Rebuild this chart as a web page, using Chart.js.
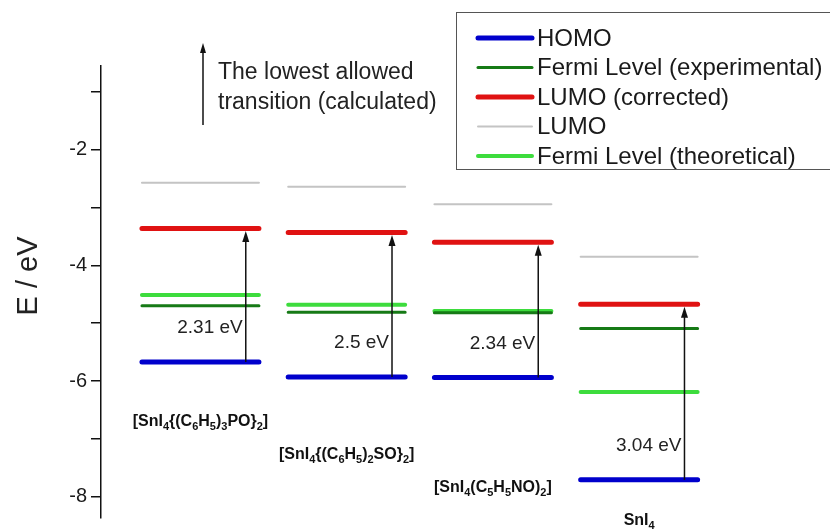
<!DOCTYPE html>
<html lang="en">
<head>
  <meta charset="UTF-8">
  <title>Energy levels of SnI4 complexes</title>
  <style>
    html, body { margin: 0; padding: 0; background: #fff; }
    #wrap { width: 830px; height: 531px; }
  </style>
  <script src="https://cdn.jsdelivr.net/npm/chart.js"></script>
</head>
<body>
  <div id="wrap"><canvas id="levelsChart" width="830" height="531"></canvas></div>

  <script>
    // compounds, left to right ("_" marks a one-digit subscript)
    var compounds = ['[SnI_4{(C_6H_5)_3PO}_2]', '[SnI_4{(C_6H_5)_2SO}_2]', '[SnI_4(C_5H_5NO)_2]', 'SnI_4'];

    // energy levels (eV), one value per compound
    var homo      = [-5.67, -5.93, -5.94, -7.71];
    var fermiExp  = [-4.70, -4.81, -4.82, -5.09];
    var lumoCorr  = [-3.36, -3.43, -3.60, -4.67];
    var lumo      = [-2.57, -2.64, -2.94, -3.85];
    var fermiTheo = [-4.51, -4.68, -4.79, -6.19];

    // lowest allowed transition (HOMO -> corrected LUMO)
    var gapLabels = ['2.31 eV', '2.5 eV', '2.34 eV', '3.04 eV'];

    var yLabelTicks = [-8, -6, -4, -2];

    var FONT = "'Liberation Sans', Arial, sans-serif";

    // each level is a short horizontal segment centred on its compound
    function levelData(values) {
      var pts = [];
      values.forEach(function (v, i) {
        var c = i + 1;
        pts.push({x: c - 0.4, y: v}, {x: c + 0.4, y: v}, {x: c + 0.5, y: null});
      });
      return pts;
    }

    var series = [
      {label: 'HOMO', values: homo, color: '#0000cc', width: 5},
      {label: 'Fermi Level (experimental)', values: fermiExp, color: '#167a16', width: 3},
      {label: 'LUMO (corrected)', values: lumoCorr, color: '#e01212', width: 5},
      {label: 'LUMO', values: lumo, color: '#c4c4c4', width: 2},
      {label: 'Fermi Level (theoretical)', values: fermiTheo, color: '#3ddc3d', width: 4}
    ];

    function drawArrowUp(ctx, x, yTail, yTip, headLen, headW) {
      ctx.beginPath();
      ctx.moveTo(x, yTail);
      ctx.lineTo(x, yTip + headLen - 1);
      ctx.stroke();
      ctx.beginPath();
      ctx.moveTo(x, yTip);
      ctx.lineTo(x - headW / 2, yTip + headLen);
      ctx.lineTo(x + headW / 2, yTip + headLen);
      ctx.closePath();
      ctx.fill();
    }

    function drawFormula(ctx, text, cx, baseline) {
      var parts = [];
      for (var k = 0; k < text.length; k++) {
        if (text[k] === '_') { parts.push({t: text[k + 1], sub: true}); k++; }
        else if (parts.length && !parts[parts.length - 1].sub) parts[parts.length - 1].t += text[k];
        else parts.push({t: text[k], sub: false});
      }
      var main = 'bold 16px ' + FONT, small = 'bold 11px ' + FONT;
      var total = 0;
      parts.forEach(function (p) {
        ctx.font = p.sub ? small : main;
        p.w = ctx.measureText(p.t).width;
        total += p.w;
      });
      var x = cx - total / 2;
      ctx.textAlign = 'left';
      ctx.textBaseline = 'alphabetic';
      parts.forEach(function (p) {
        ctx.font = p.sub ? small : main;
        ctx.fillText(p.t, x, p.sub ? baseline + 4 : baseline);
        x += p.w;
      });
    }

    var overlay = {
      id: 'overlay',
      afterDatasetsDraw: function (chart) {
        var ctx = chart.ctx, xs = chart.scales.x, ys = chart.scales.y, area = chart.chartArea;
        ctx.save();
        ctx.fillStyle = '#111';
        ctx.strokeStyle = '#111';
        ctx.lineWidth = 1.5;

        // transition arrows and their labels
        homo.forEach(function (h, i) {
          var x = xs.getPixelForValue(i + 1 + 0.31);
          var yLow = ys.getPixelForValue(h);
          var yHigh = ys.getPixelForValue(lumoCorr[i]) + 2.5;
          drawArrowUp(ctx, x, yLow, yHigh, 11, 7);
          ctx.font = '19px ' + FONT;
          ctx.fillStyle = '#222';
          ctx.textAlign = 'right';
          ctx.textBaseline = 'middle';
          ctx.fillText(gapLabels[i], x - 3, yLow - 34);
          ctx.fillStyle = '#111';
        });

        // compound names, staggered under the columns
        compounds.forEach(function (name, i) {
          drawFormula(ctx, name, xs.getPixelForValue(i + 1), area.bottom - 92 + i * 33);
        });

        // note at top left
        drawArrowUp(ctx, 203, 125, 43, 10, 6);
        ctx.font = '23px ' + FONT;
        ctx.fillStyle = '#222';
        ctx.textAlign = 'left';
        ctx.textBaseline = 'middle';
        ctx.fillText('The lowest allowed', 218, 73);
        ctx.fillText('transition (calculated)', 218, 103);

        // y axis title
        ctx.save();
        ctx.translate(29, 276);
        ctx.rotate(-Math.PI / 2);
        ctx.font = '29px ' + FONT;
        ctx.textAlign = 'center';
        ctx.fillText('E / eV', 0, 0);
        ctx.restore();

        // legend box
        ctx.fillStyle = '#fff';
        ctx.fillRect(456, 12, 400, 157);
        ctx.strokeStyle = '#555';
        ctx.lineWidth = 1;
        ctx.strokeRect(456.5, 12.5, 400, 157);
        ctx.lineCap = 'round';
        chart.data.datasets.forEach(function (ds, i) {
          var y = 38 + i * 29.5;
          ctx.strokeStyle = ds.borderColor;
          ctx.lineWidth = ds.borderWidth;
          ctx.beginPath();
          ctx.moveTo(478, y);
          ctx.lineTo(532, y);
          ctx.stroke();
          ctx.fillStyle = '#1a1a1a';
          ctx.font = '24px ' + FONT;
          ctx.textAlign = 'left';
          ctx.textBaseline = 'middle';
          ctx.fillText(ds.label, 537, y + 1);
        });
        ctx.restore();
      }
    };

    var ctxLevels = document.getElementById('levelsChart').getContext('2d');
    var levelsChart = new Chart(ctxLevels, {
      type: 'line',
      data: {
        datasets: series.map(function (s) {
          return {
            label: s.label,
            data: levelData(s.values),
            borderColor: s.color,
            backgroundColor: s.color,
            borderWidth: s.width,
            borderCapStyle: 'round',
            pointRadius: 0,
            fill: false,
            spanGaps: false,
            tension: 0
          };
        })
      },
      options: {
        responsive: false,
        animation: false,
        layout: { padding: { top: 66, bottom: 13, left: 0, right: 30 } },
        plugins: {
          legend: { display: false },
          tooltip: { enabled: false }
        },
        scales: {
          x: { type: 'linear', display: false, min: 0.32, max: 5.1 },
          y: {
            min: -8.37,
            max: -0.55,
            afterFit: function (s) { s.width = 101; s.paddingTop = 0; s.paddingBottom = 0; },
            border: { display: true, color: '#111', width: 1.5 },
            grid: { drawOnChartArea: false, drawTicks: true, tickLength: 10, color: '#111', lineWidth: 1.5 },
            ticks: {
              stepSize: 1,
              includeBounds: false,
              padding: 4,
              color: '#1a1a1a',
              font: { family: FONT, size: 20 },
              callback: function (v) { return yLabelTicks.indexOf(v) >= 0 ? String(v) : ''; }
            }
          }
        }
      },
      plugins: [overlay]
    });
  </script>
</body>
</html>
